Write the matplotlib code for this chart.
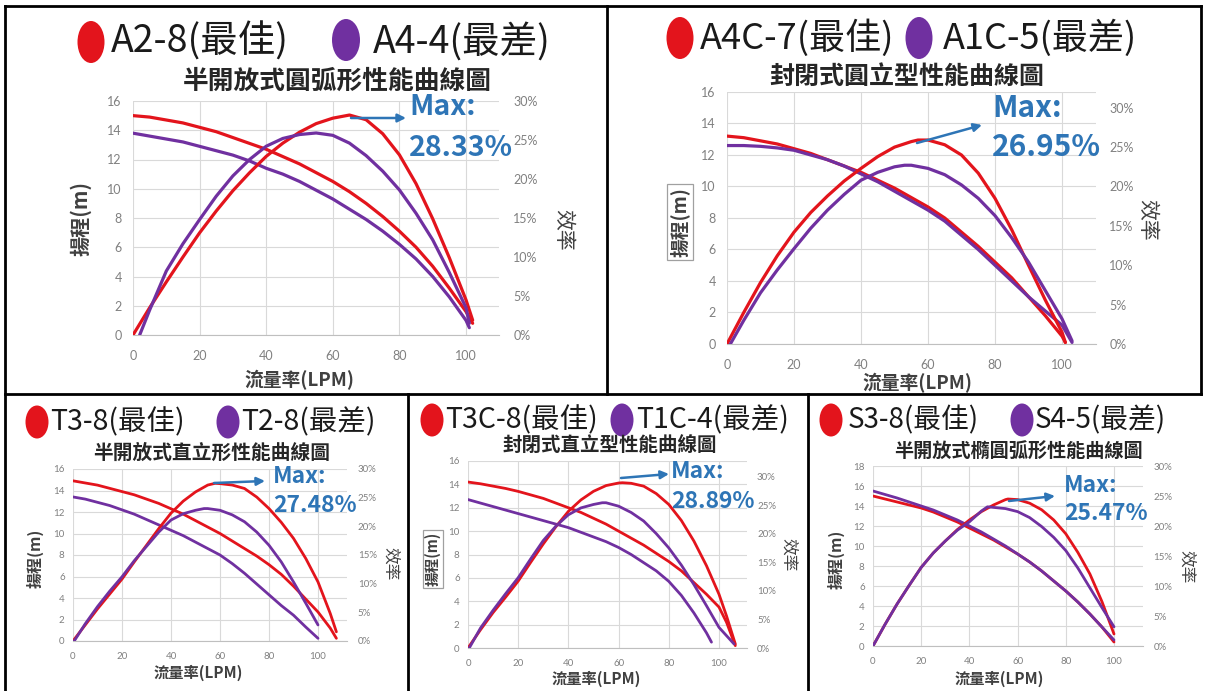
import matplotlib
matplotlib.use('Agg')
import matplotlib.pyplot as plt
from matplotlib.patches import Ellipse
from matplotlib.ticker import FuncFormatter, MultipleLocator

plt.rcParams['font.family'] = ['Noto Sans CJK TC', 'DejaVu Sans']

# ---------------- data ----------------
# Panel 1: 半開放式圓弧形
p1_q_a28_head = [0, 5, 10, 15, 20, 25, 30, 35, 40, 45, 50, 55, 60, 65, 70, 75, 80, 85, 90, 95, 100, 102]
p1_h_a28 = [15.0, 14.9, 14.7, 14.5, 14.2, 13.9, 13.5, 13.1, 12.7, 12.2, 11.7, 11.1, 10.5, 9.8, 9.0, 8.1, 7.1, 6.0, 4.7, 3.2, 1.6, 0.8]
p1_q_a44_head = [0, 5, 10, 15, 20, 25, 30, 35, 40, 45, 50, 55, 60, 65, 70, 75, 80, 85, 90, 95, 100, 101]
p1_h_a44 = [13.8, 13.6, 13.4, 13.2, 12.9, 12.6, 12.3, 11.9, 11.4, 11.0, 10.5, 9.9, 9.3, 8.6, 7.9, 7.1, 6.2, 5.2, 4.0, 2.6, 1.0, 0.5]
p1_q_a28_eff = [0, 5, 10, 15, 20, 25, 30, 35, 40, 45, 50, 55, 60, 65, 70, 75, 80, 85, 90, 95, 100, 102]
p1_e_a28 = [0, 3.5, 6.8, 10.0, 13.1, 15.9, 18.5, 20.8, 22.9, 24.6, 26.0, 27.1, 27.8, 28.2, 27.6, 25.8, 23.1, 19.4, 14.9, 9.9, 4.5, 1.9]
p1_q_a44_eff = [2, 5, 10, 15, 20, 25, 30, 35, 40, 45, 50, 55, 60, 65, 70, 75, 80, 85, 90, 95, 100, 101]
p1_e_a44 = [0, 3.2, 8.2, 11.7, 14.8, 17.8, 20.4, 22.5, 24.2, 25.2, 25.7, 25.9, 25.6, 24.6, 23.0, 21.0, 18.6, 15.6, 12.2, 8.0, 3.5, 1.5]

# Panel 2: 封閉式圓立型
p2_q_a4c7_head = [0, 5, 10, 15, 20, 25, 30, 35, 40, 45, 50, 55, 60, 65, 70, 75, 80, 85, 90, 95, 100, 101]
p2_h_a4c7 = [13.2, 13.1, 12.9, 12.7, 12.4, 12.1, 11.7, 11.3, 10.9, 10.4, 9.9, 9.3, 8.7, 8.0, 7.1, 6.2, 5.2, 4.2, 3.0, 1.8, 0.5, 0.1]
p2_q_a1c5_head = [0, 5, 10, 15, 20, 25, 30, 35, 40, 45, 50, 55, 60, 65, 70, 75, 80, 85, 90, 95, 100, 103]
p2_h_a1c5 = [12.6, 12.6, 12.55, 12.45, 12.3, 12.0, 11.7, 11.3, 10.8, 10.3, 9.7, 9.1, 8.5, 7.8, 6.9, 6.0, 5.0, 4.0, 3.0, 2.1, 1.2, 0.1]
p2_q_a4c7_eff = [0, 5, 10, 15, 20, 25, 30, 35, 40, 45, 50, 55, 57, 60, 65, 70, 75, 80, 85, 90, 95, 100, 101]
p2_e_a4c7 = [0, 4.0, 7.8, 11.2, 14.2, 16.7, 18.8, 20.7, 22.3, 23.8, 25.0, 25.7, 25.9, 25.9, 25.3, 24.0, 21.7, 18.5, 14.5, 10.0, 5.6, 1.5, 0.2]
p2_q_a1c5_eff = [1, 5, 10, 15, 20, 25, 30, 35, 40, 45, 50, 53, 55, 60, 65, 70, 75, 80, 85, 90, 95, 100, 103]
p2_e_a1c5 = [0, 3.0, 6.5, 9.4, 12.1, 14.7, 17.0, 19.0, 20.8, 21.8, 22.5, 22.7, 22.7, 22.3, 21.5, 20.2, 18.5, 16.3, 13.5, 10.4, 6.8, 3.2, 0.4]

# Panel 3: 半開放式直立形
p3_q_t38_head = [0, 5, 10, 15, 20, 25, 30, 35, 40, 45, 50, 55, 60, 65, 70, 75, 80, 85, 90, 95, 100, 105, 107.5]
p3_h_t38 = [14.9, 14.7, 14.5, 14.2, 13.9, 13.6, 13.2, 12.8, 12.3, 11.8, 11.2, 10.6, 10.0, 9.3, 8.6, 7.9, 7.1, 6.2, 5.1, 3.9, 2.7, 1.2, 0.25]
p3_q_t28_head = [0, 5, 10, 15, 20, 25, 30, 35, 40, 45, 50, 55, 60, 65, 70, 75, 80, 85, 90, 95, 100]
p3_h_t28 = [13.4, 13.2, 12.9, 12.6, 12.2, 11.8, 11.3, 10.8, 10.3, 9.8, 9.2, 8.6, 8.0, 7.2, 6.3, 5.3, 4.3, 3.3, 2.4, 1.3, 0.25]
p3_q_t38_eff = [0, 5, 10, 15, 20, 25, 30, 35, 40, 45, 50, 55, 58, 60, 65, 70, 75, 80, 85, 90, 95, 100, 105, 107.5]
p3_e_t38 = [0, 2.8, 5.6, 8.2, 10.8, 13.8, 16.7, 19.6, 22.3, 24.4, 26.0, 27.2, 27.5, 27.45, 27.2, 26.6, 25.1, 23.1, 20.7, 17.9, 14.4, 10.3, 4.8, 1.6]
p3_q_t28_eff = [0.5, 5, 10, 15, 20, 25, 30, 35, 40, 45, 50, 53.5, 55, 60, 65, 70, 75, 80, 85, 90, 95, 100]
p3_e_t28 = [0, 3.0, 6.0, 8.7, 11.2, 14.0, 16.5, 19.0, 21.1, 22.2, 22.8, 23.1, 23.1, 22.8, 22.0, 20.8, 19.0, 16.7, 13.8, 10.3, 6.6, 2.8]

# Panel 4: 封閉式直立型
p4_q_t3c8_head = [0, 5, 10, 15, 20, 25, 30, 35, 40, 45, 50, 55, 60, 65, 70, 75, 80, 85, 90, 95, 100, 103, 106.5]
p4_h_t3c8 = [14.2, 14.05, 13.85, 13.65, 13.4, 13.1, 12.8, 12.4, 12.0, 11.6, 11.1, 10.6, 10.0, 9.4, 8.8, 8.1, 7.4, 6.6, 5.6, 4.6, 3.5, 2.2, 0.2]
p4_q_t1c4_head = [0, 5, 10, 15, 20, 25, 30, 35, 40, 45, 50, 55, 60, 65, 70, 75, 80, 85, 90, 95, 97]
p4_h_t1c4 = [12.7, 12.4, 12.1, 11.8, 11.5, 11.2, 10.9, 10.6, 10.3, 9.9, 9.5, 9.1, 8.6, 8.0, 7.3, 6.6, 5.7, 4.5, 3.0, 1.3, 0.5]
p4_q_t3c8_eff = [0, 5, 10, 15, 20, 25, 30, 35, 40, 45, 50, 55, 60, 61.5, 65, 70, 75, 80, 85, 90, 95, 100, 103, 106.5]
p4_e_t3c8 = [0, 3.2, 6.2, 8.9, 11.7, 15.0, 18.2, 21.2, 23.9, 25.9, 27.4, 28.4, 28.85, 28.9, 28.8, 28.3, 27.0, 25.1, 22.3, 18.7, 14.4, 9.4, 5.6, 0.7]
p4_q_t1c4_eff = [0.5, 5, 10, 15, 20, 25, 30, 35, 40, 45, 50, 53.5, 55, 60, 65, 70, 75, 80, 85, 90, 95, 100, 106]
p4_e_t1c4 = [0, 3.5, 6.6, 9.5, 12.3, 15.6, 18.8, 21.3, 23.3, 24.5, 25.1, 25.4, 25.4, 24.8, 23.7, 22.2, 20.0, 17.5, 14.5, 11.1, 7.4, 3.6, 0.7]

# Panel 5: 半開放式橢圓弧形
p5_q_head = [0, 5, 10, 15, 20, 25, 30, 35, 40, 45, 50, 55, 60, 65, 70, 75, 80, 85, 90, 95, 100]
p5_h_s38 = [15.0, 14.7, 14.4, 14.1, 13.8, 13.4, 12.9, 12.4, 11.8, 11.2, 10.6, 9.9, 9.2, 8.4, 7.5, 6.5, 5.5, 4.4, 3.2, 1.9, 0.4]
p5_h_s45 = [15.5, 15.15, 14.8, 14.4, 14.0, 13.6, 13.1, 12.6, 12.0, 11.4, 10.7, 10.0, 9.2, 8.4, 7.5, 6.5, 5.5, 4.4, 3.2, 1.9, 0.6]
p5_q_s38_eff = [0, 5, 10, 15, 20, 25, 30, 35, 40, 45, 50, 55, 56, 60, 65, 70, 75, 80, 85, 90, 95, 100]
p5_e_s38 = [0, 3.6, 7.0, 10.1, 13.1, 15.5, 17.5, 19.4, 21.0, 22.4, 23.5, 24.4, 24.5, 24.4, 23.8, 22.7, 21.0, 18.7, 15.6, 12.0, 7.4, 2.0]
p5_q_s45_eff = [0, 5, 10, 15, 20, 25, 30, 35, 40, 45, 47.5, 50, 55, 60, 65, 70, 75, 80, 85, 90, 95, 100]
p5_e_s45 = [0, 3.6, 7.0, 10.1, 13.1, 15.5, 17.5, 19.3, 20.7, 22.5, 23.2, 23.1, 22.9, 22.4, 21.4, 19.9, 18.1, 15.9, 13.0, 9.7, 6.4, 3.2]

# labels
legend_names = [("A2-8(最佳)", "A4-4(最差)"), ("A4C-7(最佳)", "A1C-5(最差)"),
                ("T3-8(最佳)", "T2-8(最差)"), ("T3C-8(最佳)", "T1C-4(最差)"),
                ("S3-8(最佳)", "S4-5(最差)")]
titles = ["半開放式圓弧形性能曲線圖", "封閉式圓立型性能曲線圖", "半開放式直立形性能曲線圖",
          "封閉式直立型性能曲線圖", "半開放式橢圓弧形性能曲線圖"]
max_labels = ["28.33%", "26.95%", "27.48%", "28.89%", "25.47%"]
xticks = [0, 20, 40, 60, 80, 100]
xlabel = "流量率(LPM)"
ylabel = "揚程(m)"
rlabel = "效率"

# ---------------- styling ----------------
W, H = 1205, 691
fig = plt.figure(figsize=(W / 100, H / 100), dpi=100)
fig.patch.set_facecolor('white')

RED = '#E3141C'
PURPLE = '#7030A0'
BLUE = '#2E75B6'
TICK = '#808080'
GRID = '#D9D9D9'
TICKFONT = ['Lato', 'DejaVu Sans']

panels = [
    dict(x0=133, x100=466, xmax=110, y0=335, ytop=101, lmax=16, rmax=30, tfs=9, big=True),
    dict(x0=727, x100=1062, xmax=110, y0=344, ytop=92, lmax=16, rmax=32, tfs=9, big=True),
    dict(x0=73, x100=318, xmax=112, y0=641, ytop=469, lmax=16, rmax=30, tfs=7, big=False),
    dict(x0=468, x100=719, xmax=111, y0=648, ytop=461, lmax=16, rmax=32.7, tfs=7, big=False),
    dict(x0=873, x100=1114, xmax=112, y0=646, ytop=466, lmax=18, rmax=30, tfs=7, big=False),
]

series = [
    [(p1_q_a28_head, p1_h_a28, p1_q_a28_eff, p1_e_a28, RED), (p1_q_a44_head, p1_h_a44, p1_q_a44_eff, p1_e_a44, PURPLE)],
    [(p2_q_a4c7_head, p2_h_a4c7, p2_q_a4c7_eff, p2_e_a4c7, RED), (p2_q_a1c5_head, p2_h_a1c5, p2_q_a1c5_eff, p2_e_a1c5, PURPLE)],
    [(p3_q_t38_head, p3_h_t38, p3_q_t38_eff, p3_e_t38, RED), (p3_q_t28_head, p3_h_t28, p3_q_t28_eff, p3_e_t28, PURPLE)],
    [(p4_q_t3c8_head, p4_h_t3c8, p4_q_t3c8_eff, p4_e_t3c8, RED), (p4_q_t1c4_head, p4_h_t1c4, p4_q_t1c4_eff, p4_e_t1c4, PURPLE)],
    [(p5_q_head, p5_h_s38, p5_q_s38_eff, p5_e_s38, RED), (p5_q_head, p5_h_s45, p5_q_s45_eff, p5_e_s45, PURPLE)],
]

pct = FuncFormatter(lambda v, p: f"{v:g}%")

for pi, (pd_, ser) in enumerate(zip(panels, series)):
    ppu = (pd_['x100'] - pd_['x0']) / 100.0
    left = pd_['x0'] / W
    width = pd_['xmax'] * ppu / W
    bottom = 1 - pd_['y0'] / H
    height = (pd_['y0'] - pd_['ytop']) / H
    ax = fig.add_axes([left, bottom, width, height])
    ax2 = ax.twinx()
    lw = 2.3 if pd_['big'] else 2.0
    for qh, h, qe, e, c in ser:
        ax.plot(qh, h, color=c, lw=lw, solid_capstyle='round', solid_joinstyle='round', zorder=3)
        ax2.plot(qe, e, color=c, lw=lw, solid_capstyle='round', solid_joinstyle='round', zorder=3)
    ax.set_xlim(0, pd_['xmax'])
    ax.set_ylim(0, pd_['lmax'])
    ax2.set_ylim(0, pd_['rmax'])
    ax.set_xticks(xticks)
    ax.yaxis.set_major_locator(MultipleLocator(2))
    ax2.set_yticks([0, 5, 10, 15, 20, 25, 30])
    ax2.yaxis.set_major_formatter(pct)
    ax.grid(True, color=GRID, lw=0.8, zorder=0)
    ax.set_axisbelow(True)
    for a in (ax, ax2):
        for s in a.spines.values():
            s.set_visible(False)
        a.tick_params(length=0, labelsize=pd_['tfs'], colors=TICK)
        for lab in a.get_xticklabels() + a.get_yticklabels():
            lab.set_fontfamily(TICKFONT)
    ax.spines['bottom'].set_visible(True)
    ax.spines['bottom'].set_color('#BFBFBF')
    pad_scale = 1.0 if pd_['big'] else 0.75
    ax.tick_params(axis='y', pad=8 * pad_scale)
    ax.tick_params(axis='x', pad=11 * pad_scale)
    ax2.tick_params(axis='y', pad=10 * pad_scale)

# ---------------- overlay (pixel coords) ----------------
ov = fig.add_axes([0, 0, 1, 1])
ov.set_xlim(0, W)
ov.set_ylim(H, 0)
ov.axis('off')
ov.set_zorder(20)
ov.patch.set_visible(False)

# panel borders
border = dict(color='black', lw=2.0, solid_capstyle='projecting')
ov.plot([5, 1201], [6, 6], **border)
ov.plot([5, 5], [6, 691], **border)
ov.plot([1201, 1201], [6, 394], **border)
ov.plot([5, 1201], [394, 394], **border)
ov.plot([607, 607], [6, 394], **border)
ov.plot([408, 408], [394, 691], **border)
ov.plot([808, 808], [394, 691], **border)

layout = [
    dict(leg=[(91, 42, 27, 42, 111), (346, 40, 28, 42, 373)], legy=42, legfs=27,
         title=(337, 81, 18.5), maxpos=(409, 107, 148, 20.5), arrow=((351, 118), (406, 118)),
         ylab=(81, 218, 14.5, False), rlab=(563, 230, 15), xlab=(299, 380, 13.5)),
    dict(leg=[(680, 38, 27, 42, 700), (919, 38, 27, 42, 943)], legy=38, legfs=26,
         title=(907, 77, 18), maxpos=(992, 108, 147, 21.5), arrow=((917, 143), (982, 125)),
         ylab=(680, 222, 13.5, True), rlab=(1147, 220, 15), xlab=(917, 383, 13.5)),
    dict(leg=[(37, 422, 23, 33, 50), (228, 422, 23, 33, 241)], legy=422, legfs=20.5,
         title=(212, 453, 14.2), maxpos=(273, 476, 506, 16.5), arrow=((214, 483), (265, 481)),
         ylab=(35, 558, 11.5, False), rlab=(390, 564, 12), xlab=(198, 673, 11)),
    dict(leg=[(432, 420, 23, 33, 445), (622, 420, 23, 33, 636)], legy=420, legfs=20.5,
         title=(610, 446, 14), maxpos=(671, 471, 501, 16.5), arrow=((621, 478), (669, 474)),
         ylab=(433, 559, 10.5, True), rlab=(788, 555, 12), xlab=(596, 679, 11)),
    dict(leg=[(831, 420, 23, 33, 848), (1022, 420, 23, 33, 1035)], legy=420, legfs=20,
         title=(1018, 452, 13.8), maxpos=(1064, 485, 513, 16.5), arrow=((1009, 501), (1055, 496)),
         ylab=(836, 559, 11.5, False), rlab=(1186, 567, 12), xlab=(999, 679, 11)),
]

for pi, L in enumerate(layout):
    names = legend_names[pi]
    for (cx, cy, ew, eh, tx), name, col in zip(L['leg'], names, [RED, PURPLE]):
        ov.add_patch(Ellipse((cx, cy), ew, eh, color=col, lw=0))
        ov.text(tx, L['legy'], name, fontsize=L['legfs'], color='#1a1a1a',
                ha='left', va='center')
    tx, ty, tfs = L['title']
    ov.text(tx, ty, titles[pi], fontsize=tfs, fontweight='bold', color='#262626',
            ha='center', va='center')
    mx, my1, my2, mfs = L['maxpos']
    ov.text(mx, my1, "Max:", fontsize=mfs, fontweight='bold', color=BLUE, ha='left', va='center')
    ov.text(mx, my2, max_labels[pi], fontsize=mfs, fontweight='bold', color=BLUE, ha='left', va='center')
    (ax0, ay0), (ax1, ay1) = L['arrow']
    ov.annotate('', xy=(ax1, ay1), xytext=(ax0, ay0),
                arrowprops=dict(arrowstyle='-|>', color=BLUE, lw=1.8, mutation_scale=12,
                                shrinkA=0, shrinkB=0))
    yx, yy, yfs, boxed = L['ylab']
    kw = {}
    if boxed:
        kw['bbox'] = dict(boxstyle='square,pad=0.15', fc='white', ec='#A0A0A0', lw=0.9)
    ov.text(yx, yy, ylabel, fontsize=yfs, fontweight='bold', color='#404040', rotation=90,
            ha='center', va='center', **kw)
    rx, ry, rfs = L['rlab']
    ov.text(rx, ry, rlabel, fontsize=rfs, color='#404040', rotation=270,
            ha='center', va='center')
    xx, xy, xfs = L['xlab']
    ov.text(xx, xy, xlabel, fontsize=xfs, fontweight='bold', color='#404040',
            ha='center', va='center')

fig.savefig('out.png', dpi=100, facecolor='white')
